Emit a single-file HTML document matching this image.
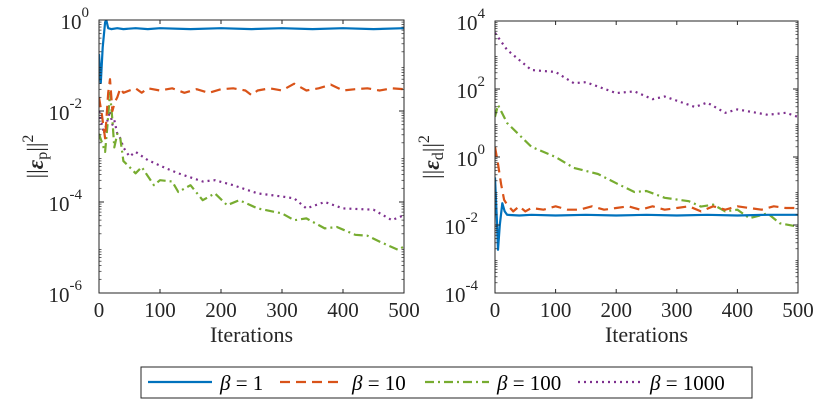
<!DOCTYPE html>
<html><head><meta charset="utf-8"><style>
body{margin:0;background:#fff;}
svg{display:block;font-family:"Liberation Serif",serif;}
</style></head><body>
<svg id="chart" width="830" height="415" viewBox="0 0 830 415"></svg>
<script>
const xTicks=[0,100,200,300,400,500];
const leftTicks=[-6,-4,-2,0];
const rightTicks=[-4,-2,0,2,4];
// left panel (log10 values)
const lBlueX=[0,3,6,10,12,15,20,30,40,60,80,100,150,200,250,300,350,400,450,500];
const lBlueY=[-0.75,-1.38,-0.6,-0.05,0,-0.18,-0.2,-0.18,-0.2,-0.18,-0.2,-0.18,-0.2,-0.18,-0.2,-0.18,-0.2,-0.18,-0.2,-0.18];
const lOrX=[0,5,10,15,18,22,26,30,35,40,50,60,70,80,100,120,140,160,180,200,220,240,250,260,280,300,320,340,360,380,400,420,440,460,480,500];
const lOrY=[-1.7,-2.1,-2.6,-1.6,-1.3,-2.0,-1.8,-1.7,-1.5,-1.6,-1.55,-1.5,-1.6,-1.5,-1.55,-1.5,-1.6,-1.52,-1.6,-1.52,-1.5,-1.55,-1.65,-1.55,-1.5,-1.55,-1.4,-1.55,-1.5,-1.42,-1.55,-1.52,-1.5,-1.55,-1.5,-1.52];
const lGrX=[0,10,14,18,22,25,30,35,40,50,60,70,90,100,120,130,150,170,190,210,230,260,300,320,340,370,390,420,440,460,490,500];
const lGrY=[-2.5,-2.9,-2.3,-1.6,-2.2,-2.8,-2.5,-2.6,-3.1,-3.23,-3.37,-3.23,-3.63,-3.52,-3.55,-3.78,-3.63,-3.96,-3.81,-4.07,-3.96,-4.14,-4.25,-4.4,-4.36,-4.58,-4.55,-4.72,-4.74,-4.87,-5.05,-4.98];
const lPuX=[0,8,12,18,22,25,30,35,40,50,60,80,110,130,170,190,220,260,300,320,340,370,400,450,480,500];
const lPuY=[-2.0,-2.5,-2.3,-2.0,-2.3,-2.2,-2.5,-2.6,-2.8,-3.0,-2.9,-3.08,-3.26,-3.37,-3.55,-3.52,-3.63,-3.81,-3.88,-3.92,-4.14,-4.0,-4.14,-4.17,-4.4,-4.29];
// right panel
const rBlueX=[0,3,5,8,12,16,20,40,60,100,150,200,250,300,350,400,450,500];
const rBlueY=[-0.6,-1.8,-2.73,-2.0,-1.36,-1.6,-1.7,-1.72,-1.7,-1.72,-1.7,-1.72,-1.7,-1.72,-1.7,-1.72,-1.7,-1.7];
const rOrX=[0,5,10,15,20,30,40,50,60,80,100,120,140,160,180,200,220,240,260,280,300,320,340,360,380,400,420,440,460,480,500];
const rOrY=[0.3,-0.2,-0.8,-1.26,-1.4,-1.6,-1.45,-1.6,-1.5,-1.55,-1.45,-1.55,-1.55,-1.45,-1.55,-1.5,-1.45,-1.55,-1.45,-1.55,-1.5,-1.45,-1.6,-1.45,-1.55,-1.45,-1.5,-1.55,-1.45,-1.5,-1.5];
const rGrX=[0,5,20,60,100,130,170,200,230,250,280,320,340,360,380,400,420,450,470,500];
const rGrY=[1.18,1.53,1.0,0.3,0.0,-0.32,-0.5,-0.77,-1.03,-1.0,-1.2,-1.3,-1.46,-1.4,-1.6,-1.55,-1.8,-1.66,-1.95,-2.05];
const rPuX=[0,20,60,100,130,150,200,230,260,280,330,350,380,400,450,480,500];
const rPuY=[3.65,3.15,2.56,2.5,2.17,2.2,1.88,1.93,1.7,1.78,1.47,1.6,1.3,1.4,1.24,1.3,1.18];

const NS="http://www.w3.org/2000/svg";
const svg=document.getElementById('chart');
function mk(tag,attrs,parent){const e=document.createElementNS(NS,tag);for(const k in attrs)e.setAttribute(k,attrs[k]);(parent||svg).appendChild(e);return e;}
const colors={blue:'#0072BD',orange:'#D95319',green:'#77AC30',purple:'#7E2F8E'};
const dashes={blue:'',orange:'10,6',green:'9,4,2,4',purple:'2,4'};

function panel(name,x0,x1,y0,y1,ymin,ymax,ticks,series,ylab){
  const g=mk('g',{});
  
  
  const sx=v=>x0+(v/500)*(x1-x0);
  const sy=v=>y1-(v-ymin)/(ymax-ymin)*(y1-y0);
  const cid='clip-'+name;
  const cp=mk('clipPath',{id:cid},g);mk('rect',{x:x0,y:y0,width:x1-x0,height:y1-y0},cp);
  const sg=mk('g',{'clip-path':'url(#'+cid+')'},g);
  series.forEach(s=>{
    const d=s.x.map((v,i)=>(i?'L':'M')+sx(v).toFixed(1)+','+sy(s.y[i]).toFixed(1)).join('');
    const p=mk('path',{d:d,fill:'none',stroke:colors[s.c],'stroke-width':2.2,'stroke-dasharray':dashes[s.c],'stroke-linejoin':'round'},sg);
    
    
  });
  const box=mk('rect',{x:x0,y:y0,width:x1-x0,height:y1-y0,fill:'none',stroke:'#262626','stroke-width':1},g);
  
  
  xTicks.forEach(t=>{
    const X=sx(t);
    mk('line',{x1:X,y1:y1,x2:X,y2:y1-4,stroke:'#262626'},g);
    mk('line',{x1:X,y1:y0,x2:X,y2:y0+4,stroke:'#262626'},g);
    const tx=mk('text',{x:X,y:y1+24,'text-anchor':'middle','font-size':21,fill:'#262626'},g);
    tx.textContent=t;
    
    
  });
  for(let d=ymin;d<ymax;d++){for(let m=2;m<10;m++){const Y=sy(d+Math.log10(m));
    mk('line',{x1:x0,y1:Y,x2:x0+2.5,y2:Y,stroke:'#262626','stroke-width':0.7},g);
    mk('line',{x1:x1,y1:Y,x2:x1-2.5,y2:Y,stroke:'#262626','stroke-width':0.7},g);}}
  ticks.forEach(t=>{
    const Y=sy(t);
    mk('line',{x1:x0,y1:Y,x2:x0+5,y2:Y,stroke:'#262626'},g);
    mk('line',{x1:x1,y1:Y,x2:x1-5,y2:Y,stroke:'#262626'},g);
    const tx=mk('text',{x:x0-6,y:Y+9,'text-anchor':'end','font-size':21,fill:'#262626'},g);
    
    
    tx.appendChild(document.createTextNode('10'));
    const ts=mk('tspan',{dy:-12,'font-size':15},tx);ts.textContent=t;
    tx.setAttribute('x',x0-(String(t).length>1?17:10));
  });
  const xl=mk('text',{x:(x0+x1)/2,y:y1+49,'text-anchor':'middle','font-size':22,fill:'#262626'},g);
  xl.textContent='Iterations';
  
  
  const yl=mk('text',{transform:'translate('+(x0-56)+','+((y0+y1)/2)+') rotate(-90)','text-anchor':'middle','font-size':23,fill:'#262626'},g);
  
  
  yl.appendChild(document.createTextNode('||'));
  const e=mk('tspan',{'font-style':'italic','font-weight':'bold'},yl);e.textContent='ε';
  const sub=mk('tspan',{'font-size':16,dy:4},yl);sub.textContent=ylab;
  const bar=mk('tspan',{dy:-4},yl);bar.textContent='||';
  const sup=mk('tspan',{'font-size':16,dy:-10},yl);sup.textContent='2';
}
panel('left-panel',99,404,20,293,-6,0,leftTicks,[
  {x:lPuX,y:lPuY,c:'purple'},{x:lGrX,y:lGrY,c:'green'},{x:lOrX,y:lOrY,c:'orange'},{x:lBlueX,y:lBlueY,c:'blue'}],'p');
panel('right-panel',495,798,21,293,-4,4,rightTicks,[
  {x:rPuX,y:rPuY,c:'purple'},{x:rGrX,y:rGrY,c:'green'},{x:rOrX,y:rOrY,c:'orange'},{x:rBlueX,y:rBlueY,c:'blue'}],'d');

const lg=mk('g',{});


mk('rect',{x:141,y:367,width:611,height:31,fill:'#fff',stroke:'#262626','stroke-width':1},lg);
const entries=[{c:'blue',t:'1',lx:148,tx:220},{c:'orange',t:'10',lx:280,tx:352},{c:'green',t:'100',lx:425,tx:497},{c:'purple',t:'1000',lx:578,tx:650}];
entries.forEach(en=>{
  const eg=mk('g',{},lg);
  
  
  mk('line',{x1:en.lx,y1:382,x2:en.lx+64,y2:382,stroke:colors[en.c],'stroke-width':2.2,'stroke-dasharray':dashes[en.c]},eg);
  const tx=mk('text',{x:en.tx,y:390,'font-size':21,fill:'#000'},eg);
  const b=mk('tspan',{'font-style':'italic'},tx);b.textContent='β';
  tx.appendChild(document.createTextNode(' = '+en.t));
});
</script>
</body></html>
